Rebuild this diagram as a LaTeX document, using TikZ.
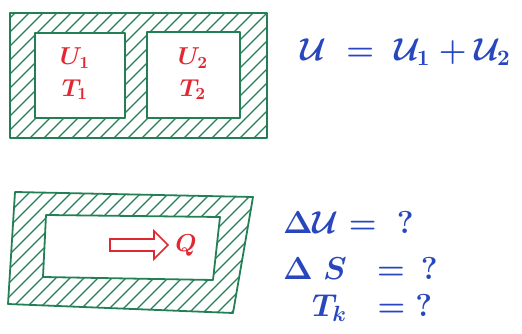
\documentclass[tikz,border=0pt]{standalone}
\usepackage{amsmath}
\usepackage{graphicx}
\usepackage{tikz}
\usetikzlibrary{shapes.arrows}
\definecolor{wall}{RGB}{35,128,85}
\definecolor{chalkred}{RGB}{225,40,50}
\definecolor{chalkblue}{RGB}{40,70,190}
\newcommand{\redpen}[1]{\scalebox{1.7}{#1}}
\newcommand{\bluepen}[1]{\scalebox{2.2}{#1}}

\begin{document}
\begin{tikzpicture}[x=1pt, y=-1pt,
  wallline/.style={draw=wall, line width=1.8pt, line join=round},
  hatch/.style={wall, line width=1.1pt, line cap=round},
  redtext/.style={text=chalkred, font=\Large\boldmath, align=center, inner sep=0pt},
  bluetext/.style={text=chalkblue, font=\Large\boldmath, inner sep=0pt, anchor=west},
]
  \useasboundingbox (0,0) rectangle (522,334);

  % top: two bodies in one insulated box
  \begin{scope}[even odd rule]
    \clip (10,13) rectangle (267,138)
      (35,33) rectangle (125,118) (147,32) rectangle (240,118);
    \foreach \i in {-140,-126,...,270}
      \draw[hatch] (\i,140) -- ++(130,-130);
  \end{scope}
  \draw[wallline] (10,13) rectangle (267,138);
  \draw[wallline] (35,33) rectangle (125,118);
  \draw[wallline] (147,32) rectangle (240,118);
  \node[redtext] (body1) at (75,74) {\redpen{$U_1$}\\[10pt]\redpen{$T_1$}};
  \node[redtext] (body2) at (193,74) {\redpen{$U_2$}\\[10pt]\redpen{$T_2$}};
  \node[bluetext] (sum) at (300,52) {\bluepen{$\mathcal{U} \;=\; \mathcal{U}_1 + \mathcal{U}_2$}};

  % bottom: heat flowing inside the box
  \begin{scope}[even odd rule]
    \clip (15,192) -- (253,197) -- (233,313) -- (8,304) -- cycle
      (46,215) -- (220,217) -- (213,280) -- (43,277) -- cycle;
    \foreach \i in {-140,-126,...,270}
      \draw[hatch] (\i,320) -- ++(135,-135);
  \end{scope}
  \draw[wallline] (15,192) -- (253,197) -- (233,313) -- (8,304) -- cycle;
  \draw[wallline] (46,215) -- (220,217) -- (213,280) -- (43,277) -- cycle;
  \node[single arrow, draw=chalkred, line width=1.6pt, minimum width=28pt,
    single arrow head extend=5pt, minimum height=58pt, inner sep=3pt] (flow) at (136,245) {};
  \node[redtext, anchor=west] (heat) at ([xshift=6pt]flow.east) {\redpen{$Q$}};

  \node[bluetext] (dU) at (283,222) {\bluepen{$\Delta\mathcal{U} = \;\;?$}};
  \node[bluetext] (dS) at (283,268) {\bluepen{$\Delta\; S \;\;= \;\,?$}};
  \node[bluetext] (Tk) at (312,308) {\bluepen{$T_k \;\;= \;?$}};
\end{tikzpicture}
\end{document}
